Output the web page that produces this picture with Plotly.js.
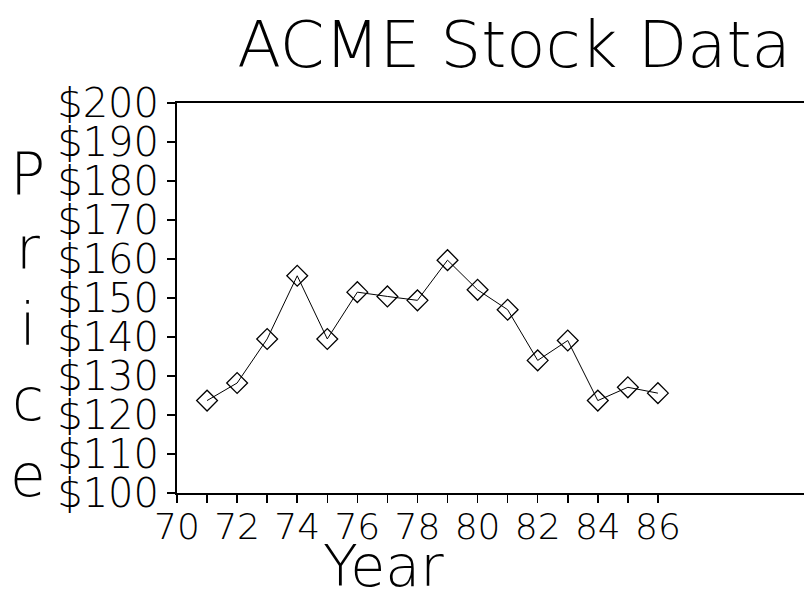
<!DOCTYPE html>
<html>
<head>
<meta charset="utf-8">
<script src="https://cdn.plot.ly/plotly-3.0.1.min.js"></script>
<style>html,body{margin:0;padding:0;background:#fff;}#chart{width:804px;height:595px;}</style>
</head>
<body>
<div id="chart"></div>
<script>
var years = [71, 72, 73, 74, 75, 76, 77, 78, 79, 80, 81, 82, 83, 84, 85, 86];
var prices = [123.7, 128.2, 139.5, 155.7, 139.5, 151.5, 150.4, 149.4, 159.7, 152.1, 147.0, 134.0, 139.1, 123.7, 127.1, 125.6];
var xTickVals = [70, 72, 74, 76, 78, 80, 82, 84, 86];
var xTickText = ['70', '72', '74', '76', '78', '80', '82', '84', '86'];
var titleText = 'ACME Stock Data';
var xTitle = 'Year';
var yTitle = 'Price';

var FONT = '"DejaVu Sans", sans-serif';
var trace = {
  x: years, y: prices, type: 'scatter', mode: 'lines+markers',
  line: {color: '#000', width: 1},
  marker: {symbol: 'diamond-open', size: 16, color: '#000', line: {color: '#000', width: 1.3}},
  hoverinfo: 'none'
};
var layout = {
  width: 804, height: 595,
  margin: {l: 177, r: 0, t: 103, b: 102},
  paper_bgcolor: '#fff', plot_bgcolor: '#fff',
  showlegend: false,
  font: {family: FONT, color: '#000', weight: 200},
  title: {text: titleText, font: {family: FONT, size: 64, color: '#000', weight: 200},
          x: 514 / 804, xanchor: 'center', xref: 'container', y: 0.962, yanchor: 'top'},
  xaxis: {range: [70, 90.86], tickvals: xTickVals, ticktext: xTickText,
          ticks: 'outside', ticklen: 8, tickwidth: 1.5, tickcolor: '#000',
          ticklabelstandoff: -7,
          minor: {tickvals: years, ticks: 'outside', ticklen: 8, tickwidth: 1.5, tickcolor: '#000'},
          showline: true, linecolor: '#000', linewidth: 2, mirror: true,
          showgrid: false, zeroline: false,
          tickfont: {family: FONT, size: 36, color: '#000', weight: 200}},
  yaxis: {range: [100, 200], dtick: 10, tick0: 100, tickprefix: '$',
          ticks: 'outside', ticklen: 8, tickwidth: 1.5, tickcolor: '#000',
          showline: true, linecolor: '#000', linewidth: 2,
          showgrid: false, zeroline: false,
          tickfont: {family: FONT, size: 40, color: '#000', weight: 200}},
  annotations: [
    {text: xTitle, xref: 'paper', yref: 'paper', x: (383 - 177) / 627, y: -0.188,
     xanchor: 'center', yanchor: 'middle', showarrow: false,
     font: {family: FONT, size: 57, color: '#000', weight: 200}},
    {text: yTitle.split('').join('<br>'), xref: 'paper', yref: 'paper', x: (28 - 177) / 627, y: 0.43,
     xanchor: 'center', yanchor: 'middle', showarrow: false, align: 'center',
     font: {family: FONT, size: 58, color: '#000', weight: 200}}
  ]
};
Plotly.newPlot('chart', [trace], layout, {displayModeBar: false, staticPlot: true});
</script>
</body>
</html>
